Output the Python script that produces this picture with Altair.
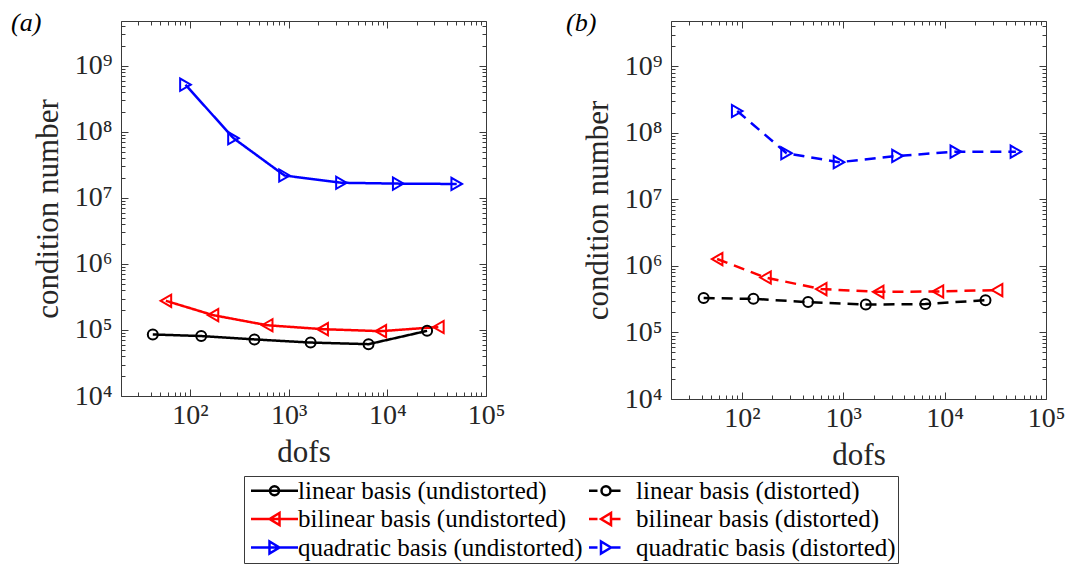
import altair as alt
import pandas as pd

# ---------------- data ----------------
# legend order: first column = undistorted, second column = distorted
SERIES_ORDER = [
    "linear basis (undistorted)", "bilinear basis (undistorted)",
    "quadratic basis (undistorted)", "linear basis (distorted)",
    "bilinear basis (distorted)", "quadratic basis (distorted)",
]
SERIES_COLORS = ["#000000", "#ff0000", "#0000ff", "#000000", "#ff0000", "#0000ff"]
BASES = ["linear", "bilinear", "quadratic"]
BASIS_COLORS = ["#000000", "#ff0000", "#0000ff"]

dofs_linear = [42, 130, 450, 1670, 6450, 25300]
dofs_bilinear = [57, 171, 606, 2210, 8590, 32900]
dofs_quadratic = [90, 276, 908, 3430, 12900, 50500]

cond_linear_undist = [8.55e4, 8.1e4, 7.2e4, 6.45e4, 6.1e4, 9.7e4]
cond_bilinear_undist = [2.77e5, 1.68e5, 1.18e5, 1.03e5, 9.6e4, 1.11e5]
cond_quadratic_undist = [5.2e8, 8.05e7, 2.19e7, 1.7e7, 1.65e7, 1.63e7]

cond_linear_dist = [3.29e5, 3.2e5, 2.86e5, 2.63e5, 2.67e5, 3.06e5]
cond_bilinear_dist = [1.27e6, 6.7e5, 4.49e5, 4.08e5, 4.13e5, 4.34e5]
cond_quadratic_dist = [2.13e8, 4.94e7, 3.62e7, 4.5e7, 5.22e7, 5.22e7]

rows = []
def add(basis, variant, xs, ys):
    for xv, yv in zip(xs, ys):
        rows.append({"series": f"{basis} basis ({variant})", "basis": basis,
                     "variant": variant, "dofs": xv, "cond": yv})

add("linear", "undistorted", dofs_linear, cond_linear_undist)
add("bilinear", "undistorted", dofs_bilinear, cond_bilinear_undist)
add("quadratic", "undistorted", dofs_quadratic, cond_quadratic_undist)
add("linear", "distorted", dofs_linear, cond_linear_dist)
add("bilinear", "distorted", dofs_bilinear, cond_bilinear_dist)
add("quadratic", "distorted", dofs_quadratic, cond_quadratic_dist)
df = pd.DataFrame(rows)

# ---------------- styling ----------------
FONT = "Liberation Serif, DejaVu Serif, serif"
TXT = "#262626"
FRAME = "#3a3a3a"
XDOM = [20, 1e5]
YDOM = [1e4, 4.8e9]

def log_ticks(lo, hi):
    vals = []
    for e in range(0, 11):
        for m in range(1, 10):
            v = m * 10 ** e
            if lo * 0.9999 <= v <= hi * 1.0001:
                vals.append(v)
    return vals

XT = log_ticks(*XDOM)
YT = log_ticks(*YDOM)

IS_MAJOR = "abs(log(datum.value)/LN10 - round(log(datum.value)/LN10)) < 0.001"
SUP = "['\u2070','\u00b9','\u00b2','\u00b3','\u2074','\u2075','\u2076','\u2077','\u2078','\u2079']"
LABEL = f"{IS_MAJOR} ? '10' + {SUP}[round(log(datum.value)/LN10)] : ''"
TICK = {"expr": f"{IS_MAJOR} ? -7 : -4"}


def make_axis(orient, values, title=None, labels=True, label_pad=14, title_pad=10):
    kw = dict(orient=orient, values=values, tickSize=TICK, domain=False, grid=False,
              tickColor=FRAME, tickWidth=1, labels=labels)
    if labels:
        kw.update(labelExpr=LABEL, labelFlush=False, labelOverlap=False,
                  labelFont=FONT, labelFontSize=28, labelColor=TXT,
                  labelPadding=label_pad)
    if title is not None:
        kw.update(title=title, titleFont=FONT, titleFontSize=31,
                  titleFontWeight="normal", titleColor=TXT, titlePadding=title_pad)
    else:
        kw.update(title=None)
    return alt.Axis(**kw)


def circ(cx, r=0.9):
    return f"M{cx + r:.2f},0A{r},{r} 0 1,1 {cx - r:.2f},0A{r},{r} 0 1,1 {cx + r:.2f},0"

def tri_l(cx):
    return f"M{cx - 1:.2f},0L{cx + 1:.2f},-1.2L{cx + 1:.2f},1.2Z"

def tri_r(cx):
    return f"M{cx + 1:.2f},0L{cx - 1:.2f},-1.2L{cx - 1:.2f},1.2Z"

SOLID = "M-4.7,0H4.7"
DASH = "M-4.7,0H-3.0M-0.3,0H1.6"
LEG_PATHS = [SOLID + circ(0), SOLID + tri_l(0), SOLID + tri_r(0),
             DASH + circ(-1.3), DASH + tri_l(-1.3), DASH + tri_r(-1.3)]

MARKERS = [("linear", "circle", 100), ("bilinear", "triangle-left", 150),
           ("quadratic", "triangle-right", 150)]


def panel(variant, label, dash, w, h, title_dx, with_legend=False):
    d = df[df["variant"] == variant]
    base = alt.Chart(d)
    xs = alt.Scale(type="log", domain=XDOM)
    ys = alt.Scale(type="log", domain=YDOM)
    strk = alt.Stroke("basis:N", scale=alt.Scale(domain=BASES, range=BASIS_COLORS),
                      legend=None)

    line = base.mark_line(strokeWidth=2.5, strokeDash=dash).encode(
        x=alt.X("dofs:Q", scale=xs,
                axis=make_axis("bottom", XT, "dofs", label_pad=12, title_pad=5)),
        y=alt.Y("cond:Q", scale=ys,
                axis=make_axis("left", YT, "condition number", label_pad=16, title_pad=10)),
        stroke=strk,
    )
    layers = [line]
    for basis, shape, size in MARKERS:
        layers.append(
            base.transform_filter(alt.datum.basis == basis)
            .mark_point(shape=shape, size=size, filled=False, strokeWidth=2, opacity=1)
            .encode(x=alt.X("dofs:Q", scale=xs, axis=None),
                    y=alt.Y("cond:Q", scale=ys, axis=None),
                    stroke=strk)
        )
    frame = base.mark_point(opacity=0).encode(
        x=alt.X("dofs:Q", scale=xs, axis=make_axis("top", XT, labels=False)),
        y=alt.Y("cond:Q", scale=ys, axis=make_axis("right", YT, labels=False)),
    )
    layers.append(frame)

    if with_legend:
        leg = alt.Legend(
            title=None, orient="none", legendX=123, legendY=455, columns=2,
            symbolSize=100, symbolStrokeWidth=2.5, symbolOpacity=1,
            symbolOffset=16, labelOffset=11, labelFont=FONT, labelFontSize=25,
            labelColor="black", labelLimit=0, columnPadding=1, rowPadding=2.5,
            padding=2, strokeColor=FRAME, fillColor="white",
        )
        legend_layer = alt.Chart(df).mark_point(opacity=0, filled=False).encode(
            x=alt.X("dofs:Q", scale=xs, axis=None),
            y=alt.Y("cond:Q", scale=ys, axis=None),
            shape=alt.Shape("series:N",
                            scale=alt.Scale(domain=SERIES_ORDER, range=LEG_PATHS),
                            legend=leg),
            color=alt.Color("series:N",
                            scale=alt.Scale(domain=SERIES_ORDER, range=SERIES_COLORS),
                            legend=leg),
        )
        layers.append(legend_layer)

    return alt.layer(*layers).resolve_axis(x="independent", y="independent").properties(
        width=w, height=h,
        title=alt.TitleParams(text=label, anchor="start", frame="group", dx=title_dx,
                              dy=24, offset=0, font=FONT, fontStyle="italic",
                              fontSize=26, fontWeight="normal", color="black"),
    )


pa = panel("undistorted", "(a)", [1, 0], 365, 375, -110, with_legend=True)
pb = panel("distorted", "(b)", [11, 7], 375, 378, -105)

chart = alt.hconcat(pa, pb, spacing=185, bounds="flush").properties(
    padding={"left": 10, "top": 9, "right": 4, "bottom": 0},
    background="white",
).configure_view(stroke=FRAME, strokeWidth=1)

chart.save("out.html", embed_options={"renderer": "svg", "actions": False})
